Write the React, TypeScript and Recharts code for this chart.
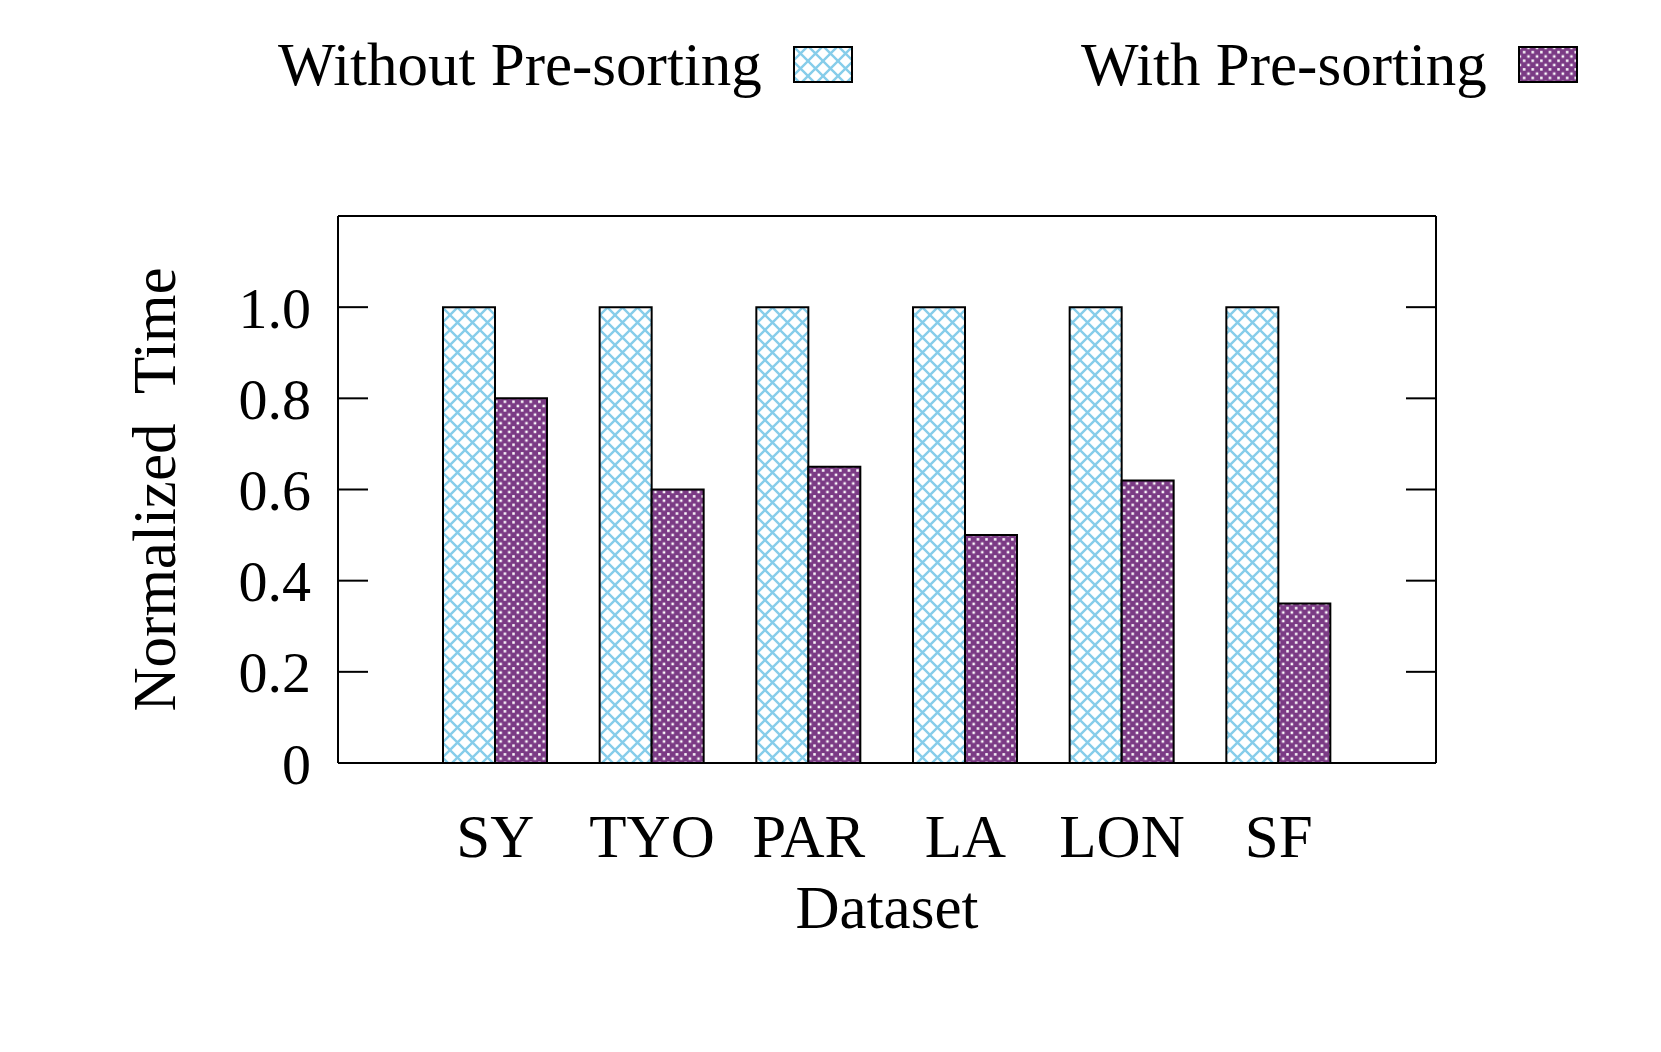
import { BarChart, Bar, XAxis, YAxis, Legend, ReferenceLine, CartesianGrid } from 'recharts'

const datasets = ['SY', 'TYO', 'PAR', 'LA', 'LON', 'SF']
const withoutPresort = [1.0, 1.0, 1.0, 1.0, 1.0, 1.0]
const withPresort = [0.8, 0.6, 0.65, 0.5, 0.62, 0.35]
const yTicks = [0, 0.2, 0.4, 0.6, 0.8, 1.0]
const yMax = 1.2

const BLUE = '#86cdea'
const PURPLE = '#7b3b85'
const FONT = '"Liberation Serif", "Times New Roman", serif'
const TICK_GAP = 27
const TICK_LEN = 30

const data = datasets.map((name, i) => ({
  name,
  without: withoutPresort[i],
  with: withPresort[i],
}))

function Patterns({ prefix }: { prefix: string }) {
  return (
    <defs>
      <pattern id={`${prefix}-hatch`} width="15" height="15" patternUnits="userSpaceOnUse">
        <rect width="15" height="15" fill="#fff" />
        <path d="M-2,-2 L17,17 M-2,17 L17,-2" stroke={BLUE} strokeWidth="2.4" />
      </pattern>
      <pattern id={`${prefix}-dots`} width="8.6" height="8.6" patternUnits="userSpaceOnUse">
        <rect width="8.6" height="8.6" fill={PURPLE} />
        <rect x="0.6" y="0.6" width="2.5" height="2.5" fill="#fff" />
        <rect x="4.9" y="4.9" width="2.5" height="2.5" fill="#fff" />
      </pattern>
    </defs>
  )
}

function LegendContent() {
  const items = [
    { label: 'Without Pre-sorting', fill: 'lg-hatch', left: 278 },
    { label: 'With Pre-sorting', fill: 'lg-dots', left: 1081 },
  ]
  return (
    <div style={{ position: 'relative', height: 0 }}>
      {items.map((it) => (
        <div
          key={it.label}
          style={{
            position: 'absolute',
            left: it.left,
            top: 34,
            display: 'flex',
            alignItems: 'center',
            gap: 31,
            fontFamily: FONT,
            fontSize: 61,
            lineHeight: '61px',
            whiteSpace: 'nowrap',
            color: '#000',
          }}
        >
          <span>{it.label}</span>
          <svg width={60} height={37} style={{ display: 'block' }}>
            <Patterns prefix="lg" />
            <rect x={1} y={1} width={58} height={35} fill={`url(#${it.fill})`} stroke="#000" strokeWidth={2} />
          </svg>
        </div>
      ))}
    </div>
  )
}

// grid line replaced by short inward tick marks on both sides of the frame;
// the first one also draws the right edge of the frame
function InwardTicks(props: any) {
  const { x1, x2, y1, y, height, index } = props
  return (
    <g>
      <line x1={x1} y1={y1} x2={x1 + TICK_LEN} y2={y1} stroke="#000" strokeWidth={2} />
      <line x1={x2 - TICK_LEN} y1={y1} x2={x2} y2={y1} stroke="#000" strokeWidth={2} />
      {index === 0 && y != null && height != null && (
        <line x1={x2} y1={y} x2={x2} y2={y + height} stroke="#000" strokeWidth={2} />
      )}
    </g>
  )
}

export default function App() {
  return (
    <div style={{ width: 1661, height: 1052, background: '#fff' }}>
      <style>{'body{margin:0}'}</style>
      <BarChart
        width={1661}
        height={1052}
        data={data}
        margin={{ top: 216, right: 225, bottom: 169, left: 0 }}
        barSize={52}
        barGap={0}
        style={{ fontFamily: FONT }}
      >
        <Patterns prefix="ch" />
        <CartesianGrid vertical={false} horizontal={InwardTicks} />
        <XAxis
          dataKey="name"
          padding={{ left: 79, right: 79 }}
          height={120}
          tickLine={false}
          tickSize={0}
          tickMargin={51}
          axisLine={{ stroke: '#000', strokeWidth: 2 }}
          tick={{ fill: '#000', fontSize: 61, fontFamily: FONT }}
          label={{
            content: ({ viewBox }: any) => (
              <text
                x={viewBox.x + viewBox.width / 2}
                y={928}
                textAnchor="middle"
                fontSize={61}
                fontFamily={FONT}
                fill="#000"
              >
                Dataset
              </text>
            ),
          }}
        />
        <YAxis
          width={338}
          type="number"
          domain={[0, yMax]}
          ticks={yTicks}
          allowDataOverflow
          tickLine={false}
          tickSize={0}
          tickMargin={TICK_GAP}
          axisLine={{ stroke: '#000', strokeWidth: 2 }}
          tick={{ fill: '#000', fontSize: 58, fontFamily: FONT }}
          tickFormatter={(v: number) => (v === 0 ? '0' : v.toFixed(1))}
          label={{
            content: ({ viewBox }: any) => {
              const cx = 154
              const cy = viewBox.y + viewBox.height / 2
              return (
                <text
                  x={cx}
                  y={cy}
                  transform={`rotate(-90 ${cx} ${cy})`}
                  textAnchor="middle"
                  dominantBaseline="central"
                  fontSize={61}
                  fontFamily={FONT}
                  fill="#000"
                  style={{ whiteSpace: 'pre' }}
                >
                  {'Normalized  Time'}
                </text>
              )
            },
          }}
        />
        <ReferenceLine y={yMax} stroke="#000" strokeWidth={2} ifOverflow="visible" />
        <Legend
          layout="horizontal"
          verticalAlign="middle"
          align="center"
          wrapperStyle={{ top: 0, left: 0, width: 1661, height: 0 }}
          content={() => <LegendContent />}
        />
        <Bar
          dataKey="without"
          name="Without Pre-sorting"
          fill="url(#ch-hatch)"
          stroke="#000"
          strokeWidth={2}
          isAnimationActive={false}
        />
        <Bar
          dataKey="with"
          name="With Pre-sorting"
          fill="url(#ch-dots)"
          stroke="#000"
          strokeWidth={2}
          isAnimationActive={false}
        />
      </BarChart>
    </div>
  )
}
